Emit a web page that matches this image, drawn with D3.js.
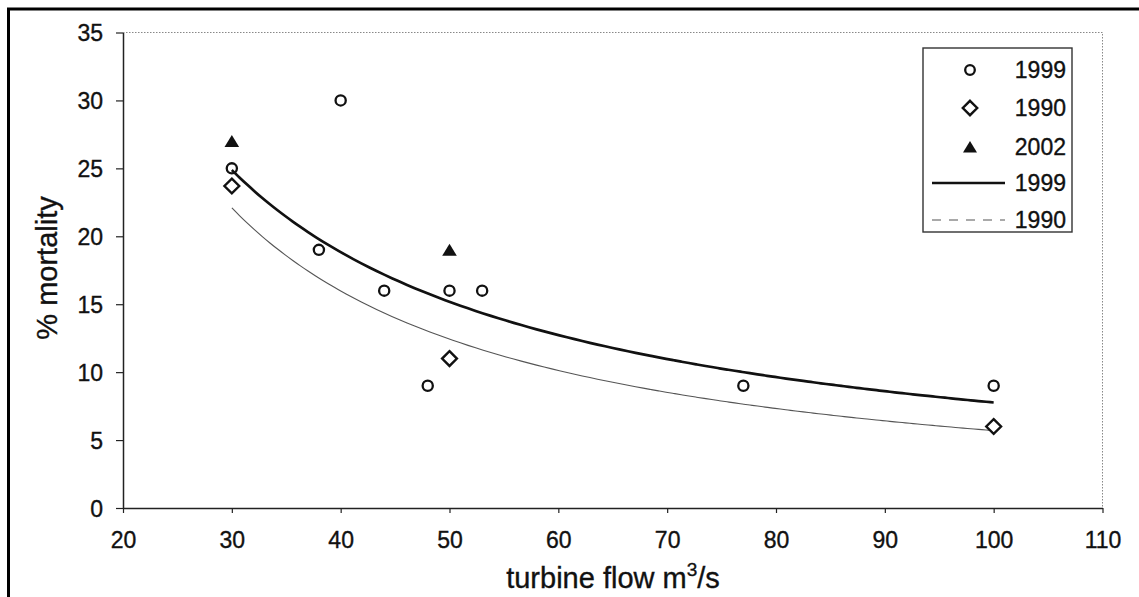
<!DOCTYPE html>
<html>
<head>
<meta charset="utf-8">
<script src="https://cdn.jsdelivr.net/npm/d3@7"></script>
<style>
  body { margin: 0; background: #fff; }
  svg { display: block; }
  text { font-family: "Liberation Sans", Arial, Helvetica, sans-serif; fill: #111; stroke: #111; stroke-width: 0.35px; }
</style>
</head>
<body>
<svg id="chart" width="1139" height="597"></svg>
<script>
// Observed mortality (%) against turbine flow (m³/s), by survey year
const flow1999 = [30, 40, 38, 44, 50, 53, 48, 77, 100];
const mort1999 = [25, 30, 19, 16, 16, 16, 9, 9, 9];
const flow1990 = [30, 50, 100];
const mort1990 = [23.7, 11, 6];
const flow2002 = [30, 50];
const mort2002 = [27, 19];

const xTicks = [20, 30, 40, 50, 60, 70, 80, 90, 100, 110];
const yTicks = [0, 5, 10, 15, 20, 25, 30, 35];
const legendLabels = ["1999", "1990", "2002", "1999", "1990"];

// Power-law trend  y = a·x^b, least squares on log–log values
function powerFit(xs, ys) {
  const lx = xs.map(Math.log), ly = ys.map(Math.log);
  const mx = d3.mean(lx), my = d3.mean(ly);
  const sxy = d3.sum(lx, (v, i) => (v - mx) * (ly[i] - my));
  const sxx = d3.sum(lx, v => (v - mx) * (v - mx));
  const b = sxy / sxx, a = Math.exp(my - b * mx);
  const [x0, x1] = d3.extent(xs);
  return d3.range(0, 101).map(k => {
    const x = x0 + (x1 - x0) * k / 100;
    return [x, a * Math.pow(x, b)];
  });
}

const svg = d3.select("#chart");

const x = d3.scaleLinear().domain([20, 110]).range([123, 1102.5]);
const y = d3.scaleLinear().domain([0, 35]).range([508, 32.5]);

// outer frame
svg.append("rect")
  .attr("x", 8.5).attr("y", 9).attr("width", 1140).attr("height", 600)
  .attr("fill", "none").attr("stroke", "#000").attr("stroke-width", 3);

// faint dotted plot-area edges (top and right)
svg.append("path")
  .attr("d", `M${x(20)},${y(35)}H${x(110)}V${y(0)}`)
  .attr("fill", "none").attr("stroke", "#888").attr("stroke-width", 1)
  .attr("stroke-dasharray", "1.5,1.5");

// axes
const yAxis = svg.append("g")
  .attr("transform", `translate(${x(20)},0)`)
  .call(d3.axisLeft(y).tickValues(yTicks).tickSize(7).tickPadding(13).tickSizeOuter(0));
const xAxis = svg.append("g")
  .attr("transform", `translate(0,${y(0)})`)
  .call(d3.axisBottom(x).tickValues(xTicks).tickSize(5).tickPadding(21).tickSizeOuter(0));

[yAxis, xAxis].forEach(g => {
  g.select(".domain").attr("stroke", "#222").attr("stroke-width", 1.5);
  g.selectAll(".tick line").attr("stroke", "#222").attr("stroke-width", 1.2);
  g.selectAll(".tick text").attr("font-size", 23).attr("fill", "#111")
    .style("font-family", '"Liberation Sans", Arial, sans-serif');
});
yAxis.selectAll(".tick text").attr("dy", "0.35em");
xAxis.selectAll(".tick text").attr("dy", "0.62em");

// axis titles
svg.append("text")
  .attr("transform", "translate(47,268) rotate(-90)")
  .attr("text-anchor", "middle").attr("dominant-baseline", "central")
  .attr("font-size", 29)
  .text("% mortality");

const xt = svg.append("text")
  .attr("x", 613).attr("y", 588)
  .attr("text-anchor", "middle").attr("font-size", 29);
xt.append("tspan").text("turbine flow m");
xt.append("tspan").attr("dy", -12).attr("font-size", 19).text("3");
xt.append("tspan").attr("dy", 12).text("/s");

// trend lines
const line = d3.line().x(d => x(d[0])).y(d => y(d[1])).curve(d3.curveMonotoneX);
svg.append("path").datum(powerFit(flow1990, mort1990))
  .attr("d", line).attr("fill", "none").attr("stroke", "#555").attr("stroke-width", 1.1);
svg.append("path").datum(powerFit(flow1999, mort1999))
  .attr("d", line).attr("fill", "none").attr("stroke", "#111").attr("stroke-width", 2.7);

// marker shapes
const diamond = s => `M0,${-s}L${s},0L0,${s}L${-s},0Z`;
const triangle = s => `M0,${-s * 0.85}L${s},${s * 0.8}L${-s},${s * 0.8}Z`;

svg.append("g").selectAll("circle")
  .data(d3.zip(flow1999, mort1999)).join("circle")
  .attr("cx", d => x(d[0])).attr("cy", d => y(d[1])).attr("r", 5.1)
  .attr("fill", "none").attr("stroke", "#111").attr("stroke-width", 2.3);

svg.append("g").selectAll("path")
  .data(d3.zip(flow1990, mort1990)).join("path")
  .attr("transform", d => `translate(${x(d[0])},${y(d[1])})`)
  .attr("d", diamond(7.4))
  .attr("fill", "#fff").attr("stroke", "#111").attr("stroke-width", 2.4);

svg.append("g").selectAll("path")
  .data(d3.zip(flow2002, mort2002)).join("path")
  .attr("transform", d => `translate(${x(d[0])},${y(d[1])})`)
  .attr("d", triangle(7.3))
  .attr("fill", "#111");

// legend
const lg = svg.append("g");
lg.append("rect")
  .attr("x", 923).attr("y", 48).attr("width", 149).attr("height", 184)
  .attr("fill", "#fff").attr("stroke", "#333").attr("stroke-width", 1.4);
const rowY = [70, 108, 147, 183, 220];
lg.append("circle").attr("cx", 970).attr("cy", rowY[0]).attr("r", 4.8)
  .attr("fill", "none").attr("stroke", "#111").attr("stroke-width", 2.3);
lg.append("path").attr("transform", `translate(970,${rowY[1]})`).attr("d", diamond(7.2))
  .attr("fill", "#fff").attr("stroke", "#111").attr("stroke-width", 2.4);
lg.append("path").attr("transform", `translate(970,${rowY[2]})`).attr("d", triangle(7))
  .attr("fill", "#111");
lg.append("line").attr("x1", 932).attr("x2", 1005).attr("y1", rowY[3]).attr("y2", rowY[3])
  .attr("stroke", "#111").attr("stroke-width", 2.4);
lg.append("line").attr("x1", 932).attr("x2", 1005).attr("y1", rowY[4]).attr("y2", rowY[4])
  .attr("stroke", "#555").attr("stroke-width", 1.1).attr("stroke-dasharray", "9,8");
lg.selectAll("text.lab").data(legendLabels).join("text").attr("class", "lab")
  .attr("x", 1066).attr("y", (d, i) => rowY[i])
  .attr("text-anchor", "end").attr("dominant-baseline", "central")
  .attr("font-size", 23).text(d => d);
</script>
</body>
</html>
